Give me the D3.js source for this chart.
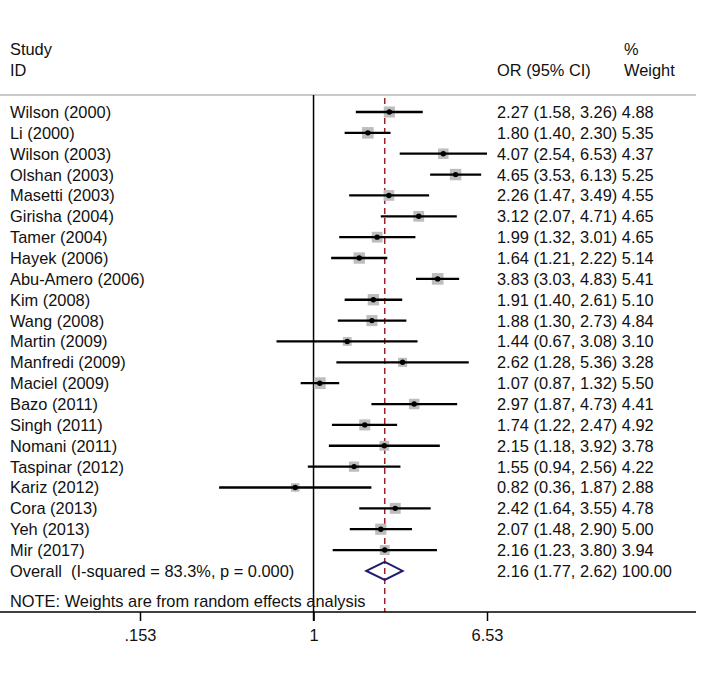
<!DOCTYPE html>
<html>
<head>
<meta charset="utf-8">
<script src="https://cdn.jsdelivr.net/npm/d3@7"></script>
<style>
  html, body { margin: 0; padding: 0; background: #ffffff; }
  svg { display: block; font-family: "Liberation Sans", Arial, sans-serif; }
  text { white-space: pre; }
</style>
</head>
<body>
<svg id="chart" width="720" height="677"></svg>
<script>
// ---- data ----
const studies = ["Wilson (2000)", "Li (2000)", "Wilson (2003)", "Olshan (2003)", "Masetti (2003)",
  "Girisha (2004)", "Tamer (2004)", "Hayek (2006)", "Abu-Amero (2006)", "Kim (2008)",
  "Wang (2008)", "Martin (2009)", "Manfredi (2009)", "Maciel (2009)", "Bazo (2011)",
  "Singh (2011)", "Nomani (2011)", "Taspinar (2012)", "Kariz (2012)", "Cora (2013)",
  "Yeh (2013)", "Mir (2017)"];
const oddsRatios = [2.27, 1.80, 4.07, 4.65, 2.26, 3.12, 1.99, 1.64, 3.83, 1.91, 1.88, 1.44, 2.62,
  1.07, 2.97, 1.74, 2.15, 1.55, 0.82, 2.42, 2.07, 2.16];
const ciLower = [1.58, 1.40, 2.54, 3.53, 1.47, 2.07, 1.32, 1.21, 3.03, 1.40, 1.30, 0.67, 1.28,
  0.87, 1.87, 1.22, 1.18, 0.94, 0.36, 1.64, 1.48, 1.23];
const ciUpper = [3.26, 2.30, 6.53, 6.13, 3.49, 4.71, 3.01, 2.22, 4.83, 2.61, 2.73, 3.08, 5.36,
  1.32, 4.73, 2.47, 3.92, 2.56, 1.87, 3.55, 2.90, 3.80];
const weights = [4.88, 5.35, 4.37, 5.25, 4.55, 4.65, 4.65, 5.14, 5.41, 5.10, 4.84, 3.10, 3.28,
  5.50, 4.41, 4.92, 3.78, 4.22, 2.88, 4.78, 5.00, 3.94];
const overallLabel = "Overall  (I-squared = 83.3%, p = 0.000)";
const overallOR = 2.16, overallLo = 1.77, overallHi = 2.62, overallWeight = 100.00;
const tickValues = [0.153, 1, 6.53];
const tickLabels = [".153", "1", "6.53"];
const noteText = "NOTE: Weights are from random effects analysis";

// ---- layout ----
const svg = d3.select("#chart");
const fs = 16.4;
const f2 = d3.format(".2f");

const x = d3.scaleLog().domain([tickValues[0], tickValues[2]]).range([140, 487]);
const rowIdx = d3.range(studies.length + 1);
const y = d3.scalePoint().domain(rowIdx).range([112, 112 + studies.length * 20.86]);

const headerY = 95, axisY = 612;

// headers
const hdr = svg.append("g").attr("font-size", fs).attr("fill", "#111");
hdr.append("text").attr("x", 10).attr("y", 55).text("Study");
hdr.append("text").attr("x", 10).attr("y", 76).text("ID");
hdr.append("text").attr("x", 497).attr("y", 76).text("OR (95% CI)");
hdr.append("text").attr("x", 624).attr("y", 55).text("%");
hdr.append("text").attr("x", 624).attr("y", 76).text("Weight");

svg.append("line").attr("x1", 0).attr("x2", 696).attr("y1", headerY).attr("y2", headerY)
  .attr("stroke", "#b8b8b8").attr("stroke-width", 1.6);

// null line
svg.append("line").attr("x1", x(1)).attr("x2", x(1)).attr("y1", headerY).attr("y2", axisY + 9)
  .attr("stroke", "#000").attr("stroke-width", 1.5);

// overall dashed line
svg.append("line").attr("x1", x(overallOR)).attr("x2", x(overallOR))
  .attr("y1", headerY + 3).attr("y2", axisY)
  .attr("stroke", "#9b2226").attr("stroke-width", 1.5).attr("stroke-dasharray", "6,4");

// study rows
const rows = svg.append("g");
studies.forEach((s, i) => {
  const cy = y(i);
  rows.append("text").attr("x", 10).attr("y", cy + 6).attr("font-size", fs).attr("fill", "#111").text(s);
  rows.append("text").attr("x", 497).attr("y", cy + 6).attr("font-size", fs).attr("fill", "#111")
    .text(`${f2(oddsRatios[i])} (${f2(ciLower[i])}, ${f2(ciUpper[i])}) ${f2(weights[i])}`);
  const side = 5.0 * Math.sqrt(weights[i]);
  rows.append("rect").attr("x", x(oddsRatios[i]) - side / 2).attr("y", cy - side / 2)
    .attr("width", side).attr("height", side).attr("fill", "#bdbdbd");
  rows.append("line").attr("x1", x(ciLower[i])).attr("x2", x(ciUpper[i])).attr("y1", cy).attr("y2", cy)
    .attr("stroke", "#000").attr("stroke-width", 2.3);
  rows.append("circle").attr("cx", x(oddsRatios[i])).attr("cy", cy).attr("r", 2.7).attr("fill", "#000");
});

// overall row
const oy = y(studies.length);
svg.append("text").attr("x", 10).attr("y", oy + 6).attr("font-size", fs).attr("fill", "#111").text(overallLabel);
svg.append("text").attr("x", 497).attr("y", oy + 6).attr("font-size", fs).attr("fill", "#111")
  .text(`${f2(overallOR)} (${f2(overallLo)}, ${f2(overallHi)}) ${f2(overallWeight)}`);
const dh = 9;
svg.append("path")
  .attr("d", `M${x(overallLo)},${oy} L${x(overallOR)},${oy - dh} L${x(overallHi)},${oy} L${x(overallOR)},${oy + dh} Z`)
  .attr("fill", "none").attr("stroke", "#1c1c73").attr("stroke-width", 2);

// note
svg.append("text").attr("x", 10).attr("y", 607).attr("font-size", fs).attr("fill", "#111").text(noteText);

// axis
svg.append("line").attr("x1", 0).attr("x2", 696).attr("y1", axisY).attr("y2", axisY)
  .attr("stroke", "#000").attr("stroke-width", 1.5);
const axis = d3.axisBottom(x).tickValues(tickValues).tickSize(9)
  .tickFormat((d, i) => tickLabels[i]);
const ag = svg.append("g").attr("transform", `translate(0,${axisY})`).call(axis);
ag.select(".domain").remove();
ag.selectAll(".tick line").attr("stroke", "#000").attr("stroke-width", 1.5);
ag.selectAll(".tick text").attr("font-size", fs).attr("fill", "#111")
  .attr("font-family", "Liberation Sans, Arial, sans-serif").attr("dy", null).attr("y", 29);
</script>
</body>
</html>
